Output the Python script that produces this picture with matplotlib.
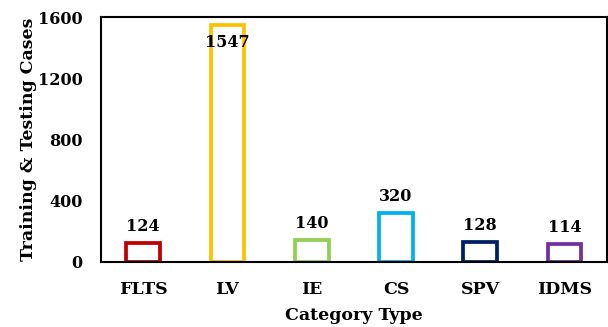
import matplotlib.pyplot as plt

categories = ['FLTS', 'LV', 'IE', 'CS', 'SPV', 'IDMS']
cases = [124, 1547, 140, 320, 128, 114]
colors = ['#C00000', '#FFC000', '#92D050', '#00B0F0', '#002060', '#7030A0']

plt.rcParams['font.family'] = 'DejaVu Serif'
plt.rcParams['font.weight'] = 'bold'

fig = plt.figure(figsize=(6.08, 3.27), dpi=100)
ax = fig.add_axes([0.166, 0.199, 0.832, 0.749])

x = range(len(categories))
ax.bar(x, cases, width=0.40, facecolor='white', edgecolor=colors, linewidth=2.7)

ymax = 1600
for i, v in enumerate(cases):
    if v + 150 > ymax:
        ax.text(i, v - 60, str(v), ha='center', va='top', fontsize=11.5, fontweight='bold')
    else:
        ax.text(i, v + 55, str(v), ha='center', va='bottom', fontsize=11.5, fontweight='bold')

ax.set_xlim(-0.5, len(categories) - 0.5)
ax.set_ylim(0, ymax)
ax.set_yticks([0, 400, 800, 1200, 1600])
ax.set_xticks(list(x))
ax.set_xticklabels(categories)
ax.tick_params(axis='y', length=0, labelsize=11.5, pad=13)
ax.tick_params(axis='x', length=0, labelsize=12.5, pad=14)
for s in ax.spines.values():
    s.set_linewidth(1.5)

ax.set_xlabel('Category Type', fontsize=12.5, fontweight='bold', labelpad=6)
ax.set_ylabel('Training & Testing Cases', fontsize=12.5, fontweight='bold', labelpad=1)

fig.savefig('out.png', dpi=100)
